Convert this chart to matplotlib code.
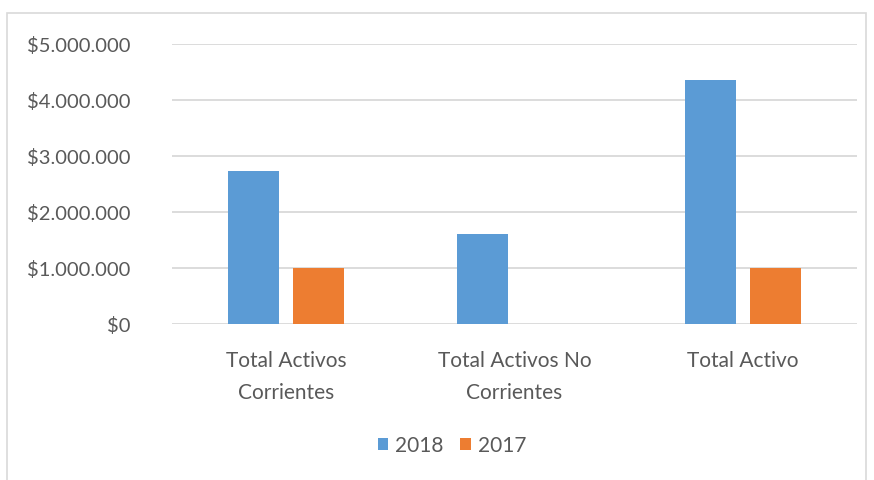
import matplotlib

matplotlib.use("Agg")

import matplotlib.pyplot as plt
import numpy as np
from matplotlib.patches import Rectangle
from matplotlib.ticker import FuncFormatter

categories = ["Total Activos\nCorrientes", "Total Activos No\nCorrientes", "Total Activo"]
series_names = ["2018", "2017"]
values_2018 = [2730000, 1610000, 4360000]
values_2017 = [1000000, 0, 1000000]
colors = ["#5B9BD5", "#ED7D31"]

TEXT = "#595959"
GRID = "#D9D9D9"

plt.rcParams["font.family"] = ["Lato", "DejaVu Sans"]

fig = plt.figure(figsize=(8.74, 4.81), dpi=100)
ax = fig.add_axes([172 / 874, 1 - 325 / 481, (857 - 172) / 874, (325 - 45) / 481])

# outer chart frame like the Excel chart area
fig.patches.append(Rectangle((7 / 874, -0.1), (866 - 7) / 874, 1.1 - 14 / 481,
                             transform=fig.transFigure, fill=False,
                             edgecolor=GRID, linewidth=1.2))

x = np.arange(len(categories))
width = 0.223
offset = 0.142
ax.bar(x - offset, values_2018, width, color=colors[0], label=series_names[0], zorder=3)
ax.bar(x + offset, values_2017, width, color=colors[1], label=series_names[1], zorder=3)

ax.set_xlim(-0.5, len(categories) - 0.5)
ax.set_ylim(0, 5000000)
ax.set_yticks(np.arange(0, 5000001, 1000000))
ax.yaxis.set_major_formatter(FuncFormatter(lambda v, _: "$" + f"{int(v):,}".replace(",", ".")))
ax.grid(axis="y", color=GRID, linewidth=1.3, zorder=0)
ax.set_xticks(x)
ax.set_xticklabels(categories, linespacing=1.75, fontsize=15)
ax.tick_params(axis="both", length=0, colors=TEXT)
ax.tick_params(axis="y", pad=30, labelsize=14.5)
ax.tick_params(axis="x", pad=19)
for side in ["top", "right", "left", "bottom"]:
    ax.spines[side].set_visible(False)

fig.legend(loc="center", bbox_to_anchor=(452 / 874, 1 - 446 / 481), ncol=2, frameon=False,
           fontsize=15, labelcolor=TEXT, handlelength=0.5, handleheight=0.5,
           handletextpad=0.35, columnspacing=0.8)

fig.savefig("out.png", dpi=100, facecolor="white")
